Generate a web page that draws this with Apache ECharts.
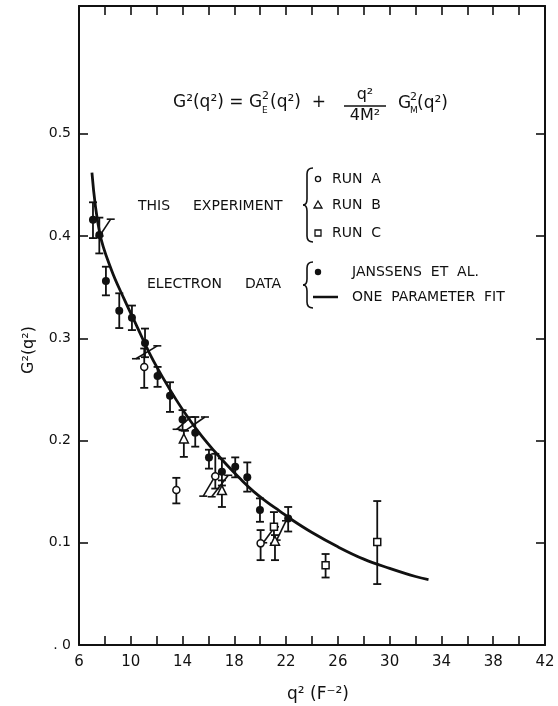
<!DOCTYPE html>
<html>
<head>
<meta charset="utf-8">
<title>G2(q2)</title>
<script src="https://cdn.jsdelivr.net/npm/echarts@6/dist/echarts.min.js"></script>
<style>
  html, body { margin: 0; padding: 0; background: #fff; }
  #main { width: 558px; height: 706px; }
</style>
</head>
<body>
<div id="main"></div>
<script>
// electron data, Janssens et al. (filled dots)
var elecX  = [7.08, 7.57, 8.08, 9.11, 10.09, 11.1, 12.07, 13.03, 14.0, 14.98, 16.04, 17.04, 18.07, 19.0, 19.98, 22.16];
var elecY  = [0.416, 0.401, 0.356, 0.327, 0.320, 0.2955, 0.263, 0.2437, 0.2205, 0.2075, 0.1835, 0.1694, 0.1743, 0.164, 0.132, 0.1238];
var elecLo = [0.398, 0.383, 0.342, 0.310, 0.308, 0.2815, 0.2525, 0.228, 0.210, 0.194, 0.1725, 0.156, 0.164, 0.150, 0.1205, 0.111];
var elecHi = [0.433, 0.418, 0.370, 0.344, 0.332, 0.3095, 0.272, 0.257, 0.2297, 0.223, 0.191, 0.1825, 0.1835, 0.1786, 0.1434, 0.135];

// this experiment, run A (open circles)
var runAX  = [11.04, 13.52, 16.53, 20.03];
var runAY  = [0.272, 0.1515, 0.165, 0.0994];
var runALo = [0.2515, 0.1385, 0.153, 0.083];
var runAHi = [0.290, 0.1635, 0.187, 0.1124];

// run B (open triangles)
var runBX  = [14.1, 17.04, 21.14];
var runBY  = [0.202, 0.1515, 0.102];
var runBLo = [0.184, 0.135, 0.083];
var runBHi = [0.210, 0.161, 0.1075];

// run C (open squares)
var runCX  = [21.06, 25.05, 29.04];
var runCY  = [0.1157, 0.0779, 0.1007];
var runCLo = [0.0994, 0.066, 0.0596];
var runCHi = [0.130, 0.089, 0.1408];

// slanted error bars [x1, y1, x2, y2]
var slantBars = [
  [7.59, 0.400, 8.45, 0.4165],
  [10.40, 0.280, 12.05, 0.2926],
  [13.54, 0.211, 14.65, 0.223],
  [14.19, 0.2095, 15.73, 0.223],
  [15.60, 0.1456, 16.50, 0.165],
  [16.25, 0.145, 17.53, 0.166],
  [20.23, 0.100, 21.14, 0.1156],
  [21.27, 0.1026, 21.99, 0.1215]
];

// one parameter fit
var fitX = [7.0, 7.6, 8.5, 9.5, 10.5, 11.5, 12.5, 13.5, 14.5, 15.5, 16.5, 17.5, 18.5, 19.5, 20.5, 21.5, 22.5, 24, 26, 28, 30, 32, 33];
var fitY = [0.462, 0.403, 0.367, 0.338, 0.311, 0.284, 0.261, 0.240, 0.221, 0.204, 0.189, 0.175, 0.162, 0.150, 0.140, 0.131, 0.122, 0.110, 0.096, 0.084, 0.075, 0.067, 0.064];

// tick labels
var xLabelVals = [6, 10, 14, 18, 22, 26, 30, 34, 38, 42];
var yLabelVals = [0, 0.1, 0.2, 0.3, 0.4, 0.5];
var yTickVals  = [0.1, 0.2, 0.3, 0.4, 0.5];

function zip(a, b) { return a.map(function (v, i) { return [v, b[i]]; }); }
function zip3(a, b, c) { return a.map(function (v, i) { return [v, b[i], c[i]]; }); }

var ink = '#111';
var font = 'DejaVu Sans';

function errBar(params, api) {
  var x = api.value(0);
  var p1 = api.coord([x, api.value(1)]);
  var p2 = api.coord([x, api.value(2)]);
  var w = 4;
  var st = { stroke: ink, lineWidth: 1.8 };
  return {
    type: 'group',
    children: [
      { type: 'line', shape: { x1: p1[0], y1: p1[1], x2: p2[0], y2: p2[1] }, style: st },
      { type: 'line', shape: { x1: p1[0] - w, y1: p1[1], x2: p1[0] + w, y2: p1[1] }, style: st },
      { type: 'line', shape: { x1: p2[0] - w, y1: p2[1], x2: p2[0] + w, y2: p2[1] }, style: st }
    ]
  };
}

function slantBar(params, api) {
  var p1 = api.coord([api.value(0), api.value(1)]);
  var p2 = api.coord([api.value(2), api.value(3)]);
  var w = 4;
  var st = { stroke: ink, lineWidth: 1.6 };
  return {
    type: 'group',
    children: [
      { type: 'line', shape: { x1: p1[0], y1: p1[1], x2: p2[0], y2: p2[1] }, style: st },
      { type: 'line', shape: { x1: p1[0] - w, y1: p1[1], x2: p1[0] + w, y2: p1[1] }, style: st },
      { type: 'line', shape: { x1: p2[0] - w, y1: p2[1], x2: p2[0] + w, y2: p2[1] }, style: st }
    ]
  };
}

function errSeries(xs, lo, hi) {
  return {
    type: 'custom', renderItem: errBar, data: zip3(xs, lo, hi),
    encode: { x: 0, y: [1, 2] }, z: 3, silent: true
  };
}

function pointSeries(xs, ys, symbol, size, filled) {
  return {
    type: 'scatter', data: zip(xs, ys), symbol: symbol, symbolSize: size, z: 5, silent: true,
    itemStyle: filled ? { color: ink, opacity: 1 } : { color: '#fff', borderColor: ink, borderWidth: 1.5, opacity: 1 }
  };
}

// curly brace opening to the right
function brace(x, top, bot) {
  var mid = (top + bot) / 2;
  var st = { stroke: ink, lineWidth: 1.6, fill: null };
  function bz(x1, y1, cx, cy, x2, y2) {
    return { type: 'bezierCurve', silent: true, shape: { x1: x1, y1: y1, cpx1: cx, cpy1: cy, x2: x2, y2: y2 }, style: st };
  }
  function ln(x1, y1, x2, y2) {
    return { type: 'line', silent: true, shape: { x1: x1, y1: y1, x2: x2, y2: y2 }, style: st };
  }
  return {
    type: 'group', silent: true,
    children: [
      bz(x + 6, top, x, top, x, top + 6),
      ln(x, top + 6, x, mid - 6),
      bz(x, mid - 6, x, mid, x - 4, mid),
      bz(x - 4, mid, x, mid, x, mid + 6),
      ln(x, mid + 6, x, bot - 6),
      bz(x, bot - 6, x, bot, x + 6, bot)
    ]
  };
}

function txt(x, y, s, size, align) {
  return {
    type: 'text', x: x, y: y, silent: true,
    style: { text: s, fill: ink, font: (size || 14) + 'px "' + font + '"',
             textAlign: align || 'left', textVerticalAlign: 'middle' }
  };
}

var chart = echarts.init(document.getElementById('main'));

chart.setOption({
  backgroundColor: '#fff',
  animation: false,
  grid: { left: 79, right: 13, top: 6, bottom: 61, outerBoundsMode: 'none' },
  xAxis: [{
    type: 'value', min: 6, max: 42, interval: 2,
    axisLine: { lineStyle: { color: ink, width: 2 } },
    axisTick: { inside: true, length: 9, lineStyle: { color: ink, width: 1.6 } },
    axisLabel: { customValues: xLabelVals, margin: 10, fontSize: 15, color: ink, fontFamily: font },
    splitLine: { show: false }
  }, {
    type: 'value', position: 'top', min: 6, max: 42, interval: 2,
    axisLine: { onZero: false, lineStyle: { color: ink, width: 2 } },
    axisTick: { inside: true, length: 9, lineStyle: { color: ink, width: 1.6 } },
    axisLabel: { show: false },
    splitLine: { show: false }
  }],
  yAxis: [{
    type: 'value', min: 0, max: 0.625, interval: 0.1,
    axisLine: { show: true, lineStyle: { color: ink, width: 2 } },
    axisTick: { show: true, inside: true, length: 9, customValues: yTickVals, lineStyle: { color: ink, width: 1.6 } },
    axisLabel: {
      customValues: yLabelVals, margin: 8, fontSize: 14, color: ink, fontFamily: font,
      formatter: function (v) { return v === 0 ? '. 0' : v.toFixed(1); }
    },
    splitLine: { show: false }
  }, {
    type: 'value', position: 'right', min: 0, max: 0.625, interval: 0.1,
    axisLine: { show: true, onZero: false, lineStyle: { color: ink, width: 2 } },
    axisTick: { show: true, inside: true, length: 9, customValues: yTickVals, lineStyle: { color: ink, width: 1.6 } },
    axisLabel: { show: false },
    splitLine: { show: false }
  }],
  series: [
    {
      name: 'ONE PARAMETER FIT', type: 'line', data: zip(fitX, fitY), smooth: 0.4,
      showSymbol: false, z: 2, silent: true, lineStyle: { color: ink, width: 2.8 }
    },
    { type: 'custom', renderItem: slantBar, data: slantBars, encode: { x: [0, 2], y: [1, 3] }, z: 3, silent: true },
    errSeries(elecX, elecLo, elecHi),
    errSeries(runAX, runALo, runAHi),
    errSeries(runBX, runBLo, runBHi),
    errSeries(runCX, runCLo, runCHi),
    pointSeries(elecX, elecY, 'circle', 8, true),
    pointSeries(runAX, runAY, 'circle', 7, false),
    pointSeries(runBX, runBY, 'triangle', 9, false),
    pointSeries(runCX, runCY, 'rect', 7, false)
  ],
  graphic: [
    // axis titles
    {
      type: 'text', x: 29, y: 350, rotation: Math.PI / 2, silent: true,
      style: { text: 'G\u00b2(q\u00b2)', fill: ink, font: '16px "' + font + '"', textAlign: 'center', textVerticalAlign: 'middle' }
    },
    txt(318, 695, 'q\u00b2 (F\u207b\u00b2)', 17, 'center'),
    // formula
    txt(173, 103, 'G\u00b2(q\u00b2) = G', 17),
    txt(262, 96, '2', 11),
    txt(262, 111, 'E', 9),
    txt(270, 103, '(q\u00b2)  +', 17),
    txt(365, 95, 'q\u00b2', 16, 'center'),
    { type: 'line', silent: true, shape: { x1: 344, y1: 106, x2: 386, y2: 106 }, style: { stroke: ink, lineWidth: 1.5 } },
    txt(365, 116, '4M\u00b2', 16, 'center'),
    txt(398, 104, 'G', 17),
    txt(410, 97, '2', 11),
    txt(410, 111, 'M', 9),
    txt(417, 104, '(q\u00b2)', 17),
    // legend, this experiment
    txt(138, 206, 'THIS', 14),
    txt(193, 206, 'EXPERIMENT', 14),
    brace(307, 168, 242),
    { type: 'circle', silent: true, shape: { cx: 318, cy: 179, r: 2.6 }, style: { stroke: ink, lineWidth: 1.3, fill: '#fff' } },
    { type: 'polygon', silent: true, shape: { points: [[318, 201], [314, 208], [322, 208]] }, style: { stroke: ink, lineWidth: 1.3, fill: '#fff' } },
    { type: 'rect', silent: true, shape: { x: 315, y: 230, width: 6, height: 6 }, style: { stroke: ink, lineWidth: 1.3, fill: '#fff' } },
    txt(332, 179, 'RUN  A', 14),
    txt(332, 205, 'RUN  B', 14),
    txt(332, 233, 'RUN  C', 14),
    // legend, electron data
    txt(147, 284, 'ELECTRON', 14),
    txt(245, 284, 'DATA', 14),
    brace(307, 262, 308),
    { type: 'circle', silent: true, shape: { cx: 318, cy: 272, r: 3.2 }, style: { fill: ink } },
    { type: 'line', silent: true, shape: { x1: 313, y1: 297, x2: 338, y2: 297 }, style: { stroke: ink, lineWidth: 2.5 } },
    txt(352, 272, 'JANSSENS  ET  AL.', 14),
    txt(352, 297, 'ONE  PARAMETER  FIT', 14)
  ]
});
</script>
</body>
</html>
